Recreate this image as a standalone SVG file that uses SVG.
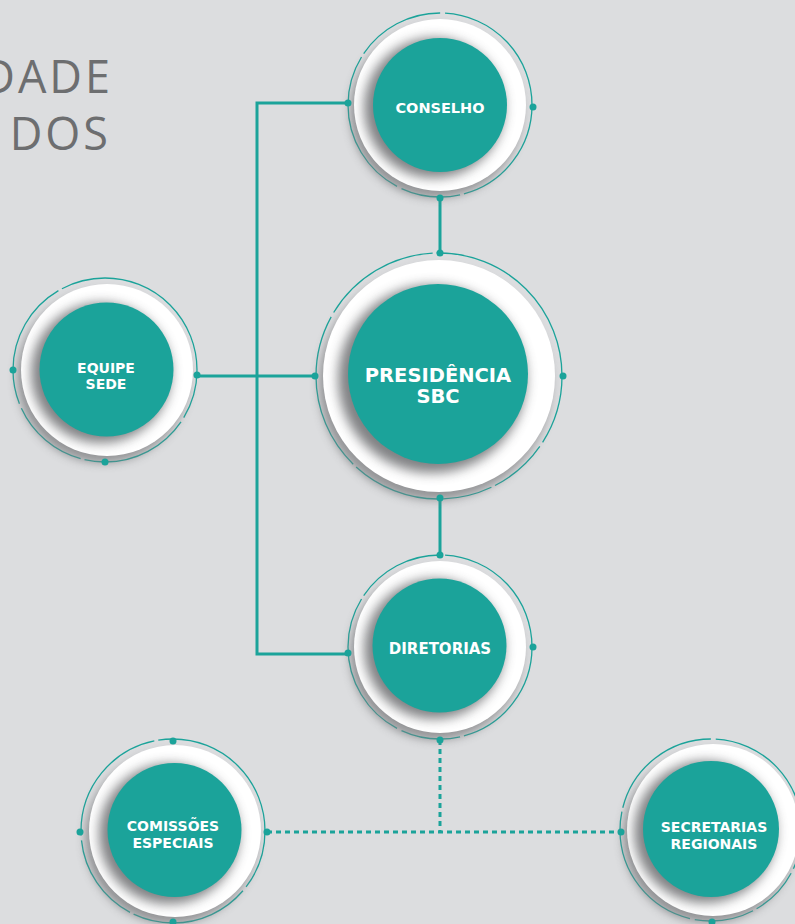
<svg xmlns="http://www.w3.org/2000/svg" width="795" height="924" viewBox="0 0 795 924">
<defs>
<filter id="blurO" x="-30%" y="-30%" width="160%" height="160%"><feGaussianBlur stdDeviation="5"/></filter>
<filter id="blurI" x="-30%" y="-30%" width="160%" height="160%"><feGaussianBlur stdDeviation="6"/></filter>
<style>
.bg{fill:#dcdddf}
.title{font-family:"Open Sans","Liberation Sans",sans-serif;font-weight:400;font-size:45px;fill:#6d6e70;letter-spacing:3px}
.ring{fill:none;stroke:#1ba39a;stroke-width:1.3}
.shadowO{fill:#7d7e80;opacity:0.75}
.white{fill:#ffffff}
.shadowI{fill:#6b6c6e;opacity:0.85}
.core{fill:#1ba39a}
.dot{fill:#1ba39a}
.lbl{font-family:"DejaVu Sans","Liberation Sans",sans-serif;font-weight:bold;fill:#ffffff;text-anchor:middle}
.conn{fill:none;stroke:#1ba39a;stroke-width:3}
.dash{stroke-dasharray:5 4}
</style>
</defs>
<rect class="bg" x="0" y="0" width="795" height="924"/>
<text class="title" x="113" y="93" text-anchor="end">DADE</text>
<text class="title" x="111" y="150" text-anchor="end">DOS</text>

<g id="connectors">
<polyline class="conn" points="348,103 257,103 257,654 348,654"/>
<line class="conn" x1="197" y1="376" x2="315" y2="376"/>
<line class="conn" x1="440" y1="198" x2="440" y2="253"/>
<line class="conn" x1="440" y1="498" x2="440" y2="555"/>
<polyline class="conn dash" points="440,740 440,832"/>
<line class="conn dash" x1="267" y1="832" x2="621" y2="832"/>
</g>

<g id="conselho">
<circle class="ring" cx="440" cy="105" r="92" stroke-dasharray="120 4 60 5 150 4 90 5 140 4"/>
<circle class="shadowO" cx="436" cy="112" r="86" filter="url(#blurO)"/>
<circle class="white" cx="440" cy="105" r="86"/>
<circle class="shadowI" cx="434" cy="108" r="70" filter="url(#blurI)"/>
<circle class="core" cx="440" cy="105" r="67"/>
<circle class="dot" cx="348" cy="103" r="3.5"/>
<circle class="dot" cx="533" cy="107" r="3.5"/>
<circle class="dot" cx="440" cy="198" r="3.5"/>
<text class="lbl" x="440" y="113" font-size="14.5">CONSELHO</text>
</g>

<g id="presidencia">
<circle class="ring" cx="439" cy="376" r="123" stroke-dasharray="70 5 60 4 50 5 90 4 160 5 120 4 200 5"/>
<circle class="shadowO" cx="435" cy="384" r="116" filter="url(#blurO)"/>
<circle class="white" cx="439" cy="376" r="116"/>
<circle class="shadowI" cx="432" cy="379" r="94" filter="url(#blurI)"/>
<circle class="core" cx="438" cy="374" r="90"/>
<circle class="dot" cx="315" cy="376" r="3.5"/>
<circle class="dot" cx="563" cy="376" r="3.5"/>
<circle class="dot" cx="440" cy="253" r="3.5"/>
<circle class="dot" cx="440" cy="498" r="3.5"/>
<text class="lbl" x="438" y="382" font-size="19.5">PRESIDÊNCIA</text>
<text class="lbl" x="438" y="403" font-size="19.5">SBC</text>
</g>

<g id="equipe-sede">
<circle class="ring" cx="105" cy="370" r="92" stroke-dasharray="50 5 110 4 80 5 130 4 200 5"/>
<circle class="shadowO" cx="103" cy="377" r="86" filter="url(#blurO)"/>
<circle class="white" cx="107" cy="370" r="86"/>
<circle class="shadowI" cx="101" cy="373" r="70" filter="url(#blurI)"/>
<circle class="core" cx="106.5" cy="369.5" r="67"/>
<circle class="dot" cx="13" cy="370" r="3.5"/>
<circle class="dot" cx="197" cy="375" r="3.5"/>
<circle class="dot" cx="105" cy="462" r="3.5"/>
<text class="lbl" x="106" y="373" font-size="14">EQUIPE</text>
<text class="lbl" x="106" y="389" font-size="14">SEDE</text>
</g>

<g id="diretorias">
<circle class="ring" cx="440" cy="647" r="92" stroke-dasharray="120 4 60 5 150 4 90 5 140 4"/>
<circle class="shadowO" cx="436" cy="654" r="86" filter="url(#blurO)"/>
<circle class="white" cx="440" cy="647" r="86"/>
<circle class="shadowI" cx="434" cy="649" r="70" filter="url(#blurI)"/>
<circle class="core" cx="439.5" cy="645.5" r="67"/>
<circle class="dot" cx="348" cy="653" r="3.5"/>
<circle class="dot" cx="533" cy="647" r="3.5"/>
<circle class="dot" cx="440" cy="555" r="3.5"/>
<circle class="dot" cx="440" cy="740" r="3.5"/>
<text class="lbl" x="440" y="654" font-size="15">DIRETORIAS</text>
</g>

<g id="comissoes-especiais">
<circle class="ring" cx="173" cy="831" r="92" stroke-dasharray="60 5 120 4 90 5 130 4 180 5"/>
<circle class="shadowO" cx="171" cy="838" r="86" filter="url(#blurO)"/>
<circle class="white" cx="175" cy="831" r="86"/>
<circle class="shadowI" cx="169" cy="834" r="70" filter="url(#blurI)"/>
<circle class="core" cx="174.5" cy="830" r="67"/>
<circle class="dot" cx="80" cy="832" r="3.5"/>
<circle class="dot" cx="267" cy="832" r="3.5"/>
<circle class="dot" cx="173" cy="741" r="3.5"/>
<circle class="dot" cx="173" cy="922" r="3.5"/>
<text class="lbl" x="173" y="831" font-size="14">COMISSÕES</text>
<text class="lbl" x="173" y="848" font-size="14">ESPECIAIS</text>
</g>

<g id="secretarias-regionais">
<circle class="ring" cx="711" cy="830" r="91" stroke-dasharray="40 5 50 4 60 5 140 4 120 5 150 4"/>
<circle class="shadowO" cx="709" cy="837" r="86" filter="url(#blurO)"/>
<circle class="white" cx="713" cy="830" r="86"/>
<circle class="shadowI" cx="705" cy="832" r="71" filter="url(#blurI)"/>
<circle class="core" cx="711" cy="829" r="68"/>
<circle class="dot" cx="621" cy="832" r="3.5"/>
<circle class="dot" cx="712" cy="922" r="3.5"/>
<text class="lbl" x="714" y="832" font-size="14">SECRETARIAS</text>
<text class="lbl" x="714" y="849" font-size="14">REGIONAIS</text>
</g>
</svg>
